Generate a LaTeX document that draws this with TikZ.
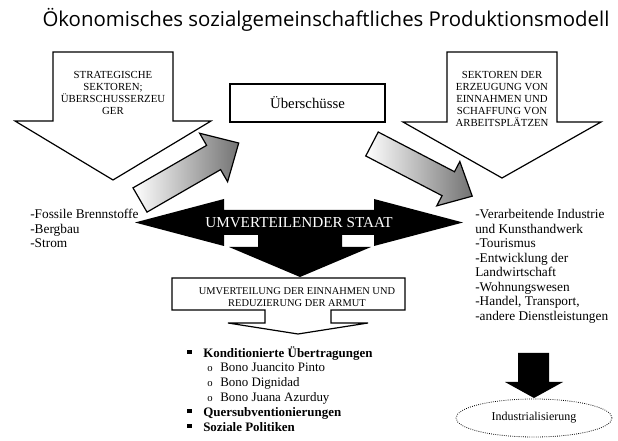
\documentclass[tikz,border=0pt]{standalone}
\usepackage{fontspec}
\setmainfont{Liberation Serif}
\newfontfamily\titlefont{Open Sans}
\usetikzlibrary{shapes.geometric}
\newcommand{\sqbul}{\makebox[12pt][l]{\rule[2.4pt]{3.2pt}{3.2pt}}}
\newcommand{\subbul}{\hspace{15pt}\makebox[9.75pt][l]{\fontsize{8}{9}\selectfont o}}
\begin{document}
\begin{tikzpicture}[x=0.75pt,y=-0.75pt,
  box/.style={draw,line width=0.9pt,fill=white},
  captxt/.style={align=center,inner sep=0pt,font=\fontsize{8.1}{9}\selectfont},
  listtxt/.style={align=left,inner sep=0pt,anchor=north west,font=\fontsize{10}{10.9}\selectfont},
  grayarrow/.style={draw,line width=0.9pt,left color=white,right color=black!55}]
  \useasboundingbox (0,0) rectangle (618,441);

  \node[font=\titlefont\fontsize{15.3}{18}\selectfont] (titel) at (326,20)
    {Ökonomisches sozialgemeinschaftliches Produktionsmodell};

  % obere Pfeilkaesten
  \draw[box] (53,52) -- (53,121) -- (15,121) -- (113,180) -- (211,121) -- (173,121) -- (173,52) -- cycle;
  \draw[box] (447,52) -- (447,122) -- (403,122) -- (502,178) -- (601,122) -- (557,122) -- (557,52) -- cycle;
  \node[captxt] (strat) at (113,93) {STRATEGISCHE\\SEKTOREN;\\ÜBERSCHUSSERZEU\\GER};
  \node[captxt] (sekt) at (502,99) {SEKTOREN DER\\ERZEUGUNG VON\\EINNAHMEN UND\\SCHAFFUNG VON\\ARBEITSPLÄTZEN};

  \node[draw,line width=0.9pt,minimum width=116.25pt,minimum height=28.5pt,
        font=\fontsize{11.1}{13}\selectfont] (ueber) at (307.5,103) {Überschüsse};

  % graue Pfeile
  \begin{scope}[shift={(140,200)},rotate=30]
    \shade[grayarrow] (0,-14) -- (85,-14) -- (85,-28) -- (114,0) -- (85,28) -- (85,14) -- (0,14) -- cycle;
  \end{scope}
  \begin{scope}[shift={(372,144)},rotate=-27.5]
    \shade[grayarrow] (0,-13.5) -- (86,-13.5) -- (86,-25) -- (113,0) -- (86,25) -- (86,13.5) -- (0,13.5) -- cycle;
  \end{scope}

  % umverteilender Staat
  \fill (135,222.5) -- (224,199) -- (224,210) -- (374,210) -- (374,199) -- (463,222.5)
    -- (374,246) -- (374,235) -- (224,235) -- (224,246) -- cycle;
  \fill (258,230) -- (258,247) -- (229,247) -- (300,277) -- (371,247) -- (342,247) -- (342,230) -- cycle;
  \node[text=white,anchor=base,inner sep=0pt,font=\fontsize{11.4}{13}\selectfont] (staat) at (299,227.5)
    {UMVERTEILENDER STAAT};

  \node[listtxt] (links) at (30,209) {-Fossile Brennstoffe\\-Bergbau\\-Strom};
  \node[listtxt] (rechts) at (475,209) {-Verarbeitende Industrie\\und Kunsthandwerk\\-Tourismus\\
    -Entwicklung der\\Landwirtschaft\\-Wohnungswesen\\-Handel, Transport,\\-andere Dienstleistungen};

  % Umverteilung
  \draw[box] (172,278) -- (405,278) -- (405,310) -- (331,310) -- (331,323) -- (368,323) -- (298,334)
    -- (228,323) -- (265,323) -- (265,310) -- (172,310) -- cycle;
  \node[captxt,font=\fontsize{7.8}{9}\selectfont] (umv) at (297,297)
    {UMVERTEILUNG DER EINNAHMEN UND\\REDUZIERUNG DER ARMUT};

  \node[listtxt,font=\fontsize{9.7}{11.1}\selectfont] (mass) at (187,346)
    {\sqbul\textbf{Konditionierte Übertragungen}\\
     \subbul Bono Juancito Pinto\\
     \subbul Bono Dignidad\\
     \subbul Bono Juana Azurduy\\
     \sqbul\textbf{Quersubventionierungen}\\
     \sqbul\textbf{Soziale Politiken}};

  % Industrialisierung
  \fill (518,353) -- (549,353) -- (549,382) -- (563,382) -- (534,398) -- (505,382) -- (518,382) -- cycle;
  \node[draw,densely dotted,line width=0.6pt,ellipse,minimum width=117pt,minimum height=28.5pt,
        font=\fontsize{9}{11}\selectfont] (indus) at (534,418) {Industrialisierung};
\end{tikzpicture}
\end{document}
